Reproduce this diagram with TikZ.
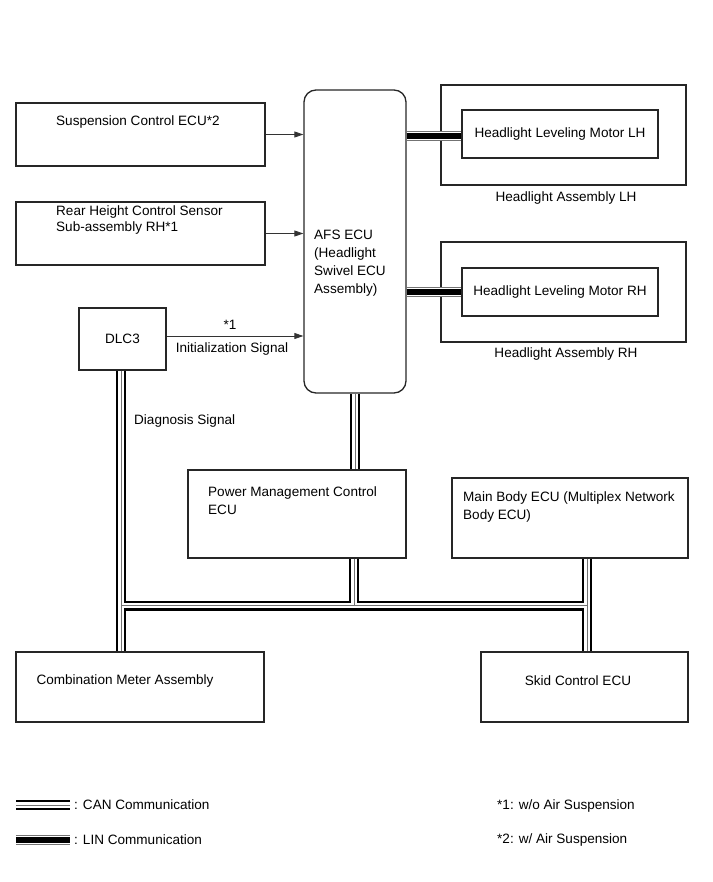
\documentclass[tikz,border=0pt]{standalone}
\usepackage{fontspec}
\setmainfont{Liberation Sans}
\usetikzlibrary{arrows.meta}

\begin{document}
\begin{tikzpicture}[x=1bp, y=-1bp,
  every node/.style={font=\fontsize{13.6}{18}\selectfont, inner sep=0pt},
  unit/.style={draw=black!85, line width=1.3bp},
  txt/.style={anchor=west, align=left},
  sig/.style={-{Triangle[length=9bp,width=6bp]}, line width=0.8bp, black!80},
  can/.style={draw=black, line width=10bp,
    postaction={draw=white, line width=5.6bp},
    postaction={draw=black!55, line width=0.8bp}},
  lin/.style={draw=black!55, line width=10bp,
    postaction={draw=white, line width=8bp},
    postaction={draw=black, line width=6bp}}]
  \useasboundingbox (0,0) rectangle (713,882);

  % ECUs on the left
  \node[unit, minimum width=249bp, minimum height=63bp] (susp) at (140.5,134.5) {};
  \node[txt] (susptxt) at (56,122) {Suspension Control ECU*2};
  \node[unit, minimum width=249bp, minimum height=63bp] (rear) at (140.5,233.5) {};
  \node[txt, font=\fontsize{13.6}{16.5}\selectfont] (reartxt) at (56,220) {Rear Height Control Sensor\\Sub-assembly RH*1};
  \node[unit, minimum width=87bp, minimum height=62bp] (dlc) at (122.5,339) {DLC3};

  % AFS ECU
  \node[unit, rounded corners=12bp, minimum width=102bp, minimum height=303bp] (afs) at (355,241.5) {};
  \node[txt] (afstxt) at (314,263) {AFS ECU\\(Headlight\\Swivel ECU\\Assembly)};

  % headlights
  \node[unit, minimum width=245bp, minimum height=100bp] (hlLH) at (563.5,135) {};
  \node[unit, minimum width=196bp, minimum height=48bp] (motLH) at (560,134) {Headlight Leveling Motor LH};
  \node (hlLHtxt) at (566,198) {Headlight Assembly LH};
  \node[unit, minimum width=245bp, minimum height=100bp] (hlRH) at (563.5,292) {};
  \node[unit, minimum width=196bp, minimum height=48bp] (motRH) at (560,292) {Headlight Leveling Motor RH};
  \node (hlRHtxt) at (566,354) {Headlight Assembly RH};

  % network ECUs
  \node[unit, minimum width=218bp, minimum height=88bp] (pmc) at (297,514) {};
  \node[txt] (pmctxt) at (208,501) {Power Management Control\\ECU};
  \node[unit, minimum width=236bp, minimum height=80bp] (main) at (570,518) {};
  \node[txt] (maintxt) at (463,507) {Main Body ECU (Multiplex Network\\Body ECU)};
  \node[unit, minimum width=248bp, minimum height=70bp] (comb) at (140,687) {};
  \node (combtxt) at (125,681) {Combination Meter Assembly};
  \node[unit, minimum width=207bp, minimum height=70bp] (skid) at (584.5,687) {};
  \node (skidtxt) at (578,681) {Skid Control ECU};

  % signals
  \draw[sig] (susp.east) -- (susp.east -| afs.west);
  \draw[sig] (rear.east) -- (rear.east -| afs.west);
  \draw[sig] ([yshift=3bp]dlc.east) -- ([yshift=3bp]dlc.east -| afs.west);
  \node (star1) at (230,325) {*1};
  \node (init) at (232,349) {Initialization Signal};
  \node[txt] (diag) at (134,421) {Diagnosis Signal};

  % LIN
  \path[lin] (afs.east |- 0,136) -- (motLH.west |- 0,136);
  \path[lin] (afs.east |- 0,292) -- (motRH.west |- 0,292);

  % CAN
  \coordinate (jl) at (121,605.5);
  \coordinate (jm) at (354,605.5);
  \coordinate (jr) at (587,605.5);
  \path[can] (afs.south) -- (afs.south |- pmc.north);
  \path[can] (dlc.south -| jl) -- (comb.north -| jl) (jl) -- (jr)
    (main.south -| jr) -- (skid.north -| jr) (pmc.south -| jm) -- (jm);

  % legend
  \coordinate (canA) at (16,805);
  \coordinate (canB) at (70,805);
  \coordinate (linA) at (16,840);
  \coordinate (linB) at (70,840);
  \path[can] (canA) -- (canB);
  \path[lin] (linA) -- (linB);
  \node[txt] (cantxt) at (74,805) {: CAN Communication};
  \node[txt] (lintxt) at (74,840) {: LIN Communication};
  \node[txt] (note1) at (497,806) {*1: w/o Air Suspension};
  \node[txt] (note2) at (497,840) {*2: w/ Air Suspension};
\end{tikzpicture}
\end{document}
